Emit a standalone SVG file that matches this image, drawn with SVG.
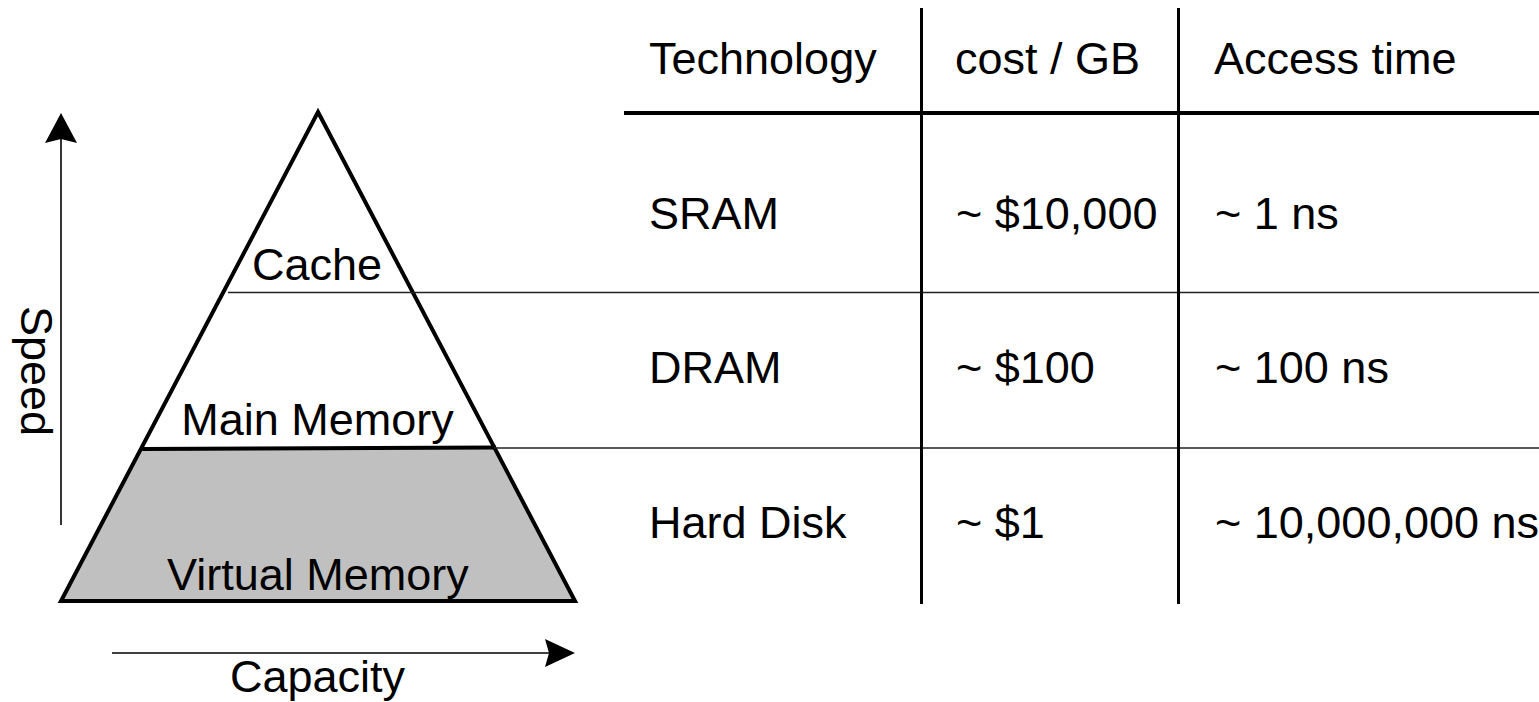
<svg xmlns="http://www.w3.org/2000/svg" width="1539" height="702" viewBox="0 0 1539 702">
<style>
  text { font-family: "Liberation Sans", Arial, sans-serif; font-size: 45px; fill: #000; }
  .mid { text-anchor: middle; }
  .thick { stroke: #000; stroke-width: 4; fill: none; stroke-linecap: square; stroke-linejoin: miter; }
  .thin { stroke: #222; stroke-width: 1.4; fill: none; }
  .col { stroke: #000; stroke-width: 3; fill: none; }
  .axis { stroke: #000; stroke-width: 1.6; fill: none; }
</style>
<rect width="1539" height="702" fill="#fff"/>
<g id="pyramid">
  <g id="virtual-memory">
    <polygon points="141.5,448 494.5,448 575,601 61,601" fill="#c0c0c0"/>
    <text class="mid" x="318" y="590">Virtual Memory</text>
  </g>
  <g id="main-memory">
    <text class="mid" x="317.5" y="435">Main Memory</text>
  </g>
  <g id="cache">
    <text class="mid" x="317" y="280">Cache</text>
  </g>
  <polygon class="thick" points="318,112 575,601 61,601"/>
  <line class="thick" x1="143" y1="449" x2="494" y2="447.5" stroke-linecap="butt"/>
</g>
<g id="connectors">
  <line class="thin" x1="228" y1="292.5" x2="1539" y2="292.5"/>
  <line class="thin" x1="494" y1="448" x2="1539" y2="448"/>
  <line class="axis" x1="61" y1="525" x2="61" y2="138"/>
  <path d="M61,113 L77,143 L61,139 L45,143 Z" fill="#000"/>
  <line class="axis" x1="112" y1="653" x2="550" y2="653"/>
  <path d="M575,653 L545,667 L549,653 L545,639 Z" fill="#000"/>
</g>
<g id="axis-labels">
  <text class="mid" transform="translate(21,371) rotate(90)">Speed</text>
  <text class="mid" x="317.5" y="692">Capacity</text>
</g>
<g id="table">
  <line class="col" x1="921.5" y1="8" x2="921.5" y2="604"/>
  <line class="col" x1="1178.5" y1="8" x2="1178.5" y2="604"/>
  <line class="thick" x1="626" y1="113" x2="1539" y2="113" stroke-linecap="butt"/>
  <g id="header">
    <text x="649" y="74">Technology</text>
    <text x="955" y="74">cost / GB</text>
    <text x="1214" y="74">Access time</text>
  </g>
  <g id="row-sram">
    <text x="649" y="229">SRAM</text>
    <text x="956" y="229">~ $10,000</text>
    <text x="1215" y="229">~ 1 ns</text>
  </g>
  <g id="row-dram">
    <text x="649" y="383">DRAM</text>
    <text x="956" y="383">~ $100</text>
    <text x="1215" y="383">~ 100 ns</text>
  </g>
  <g id="row-disk">
    <text x="649" y="538">Hard Disk</text>
    <text x="956" y="538">~ $1</text>
    <text x="1215" y="538">~ 10,000,000 ns</text>
  </g>
</g>
</svg>
